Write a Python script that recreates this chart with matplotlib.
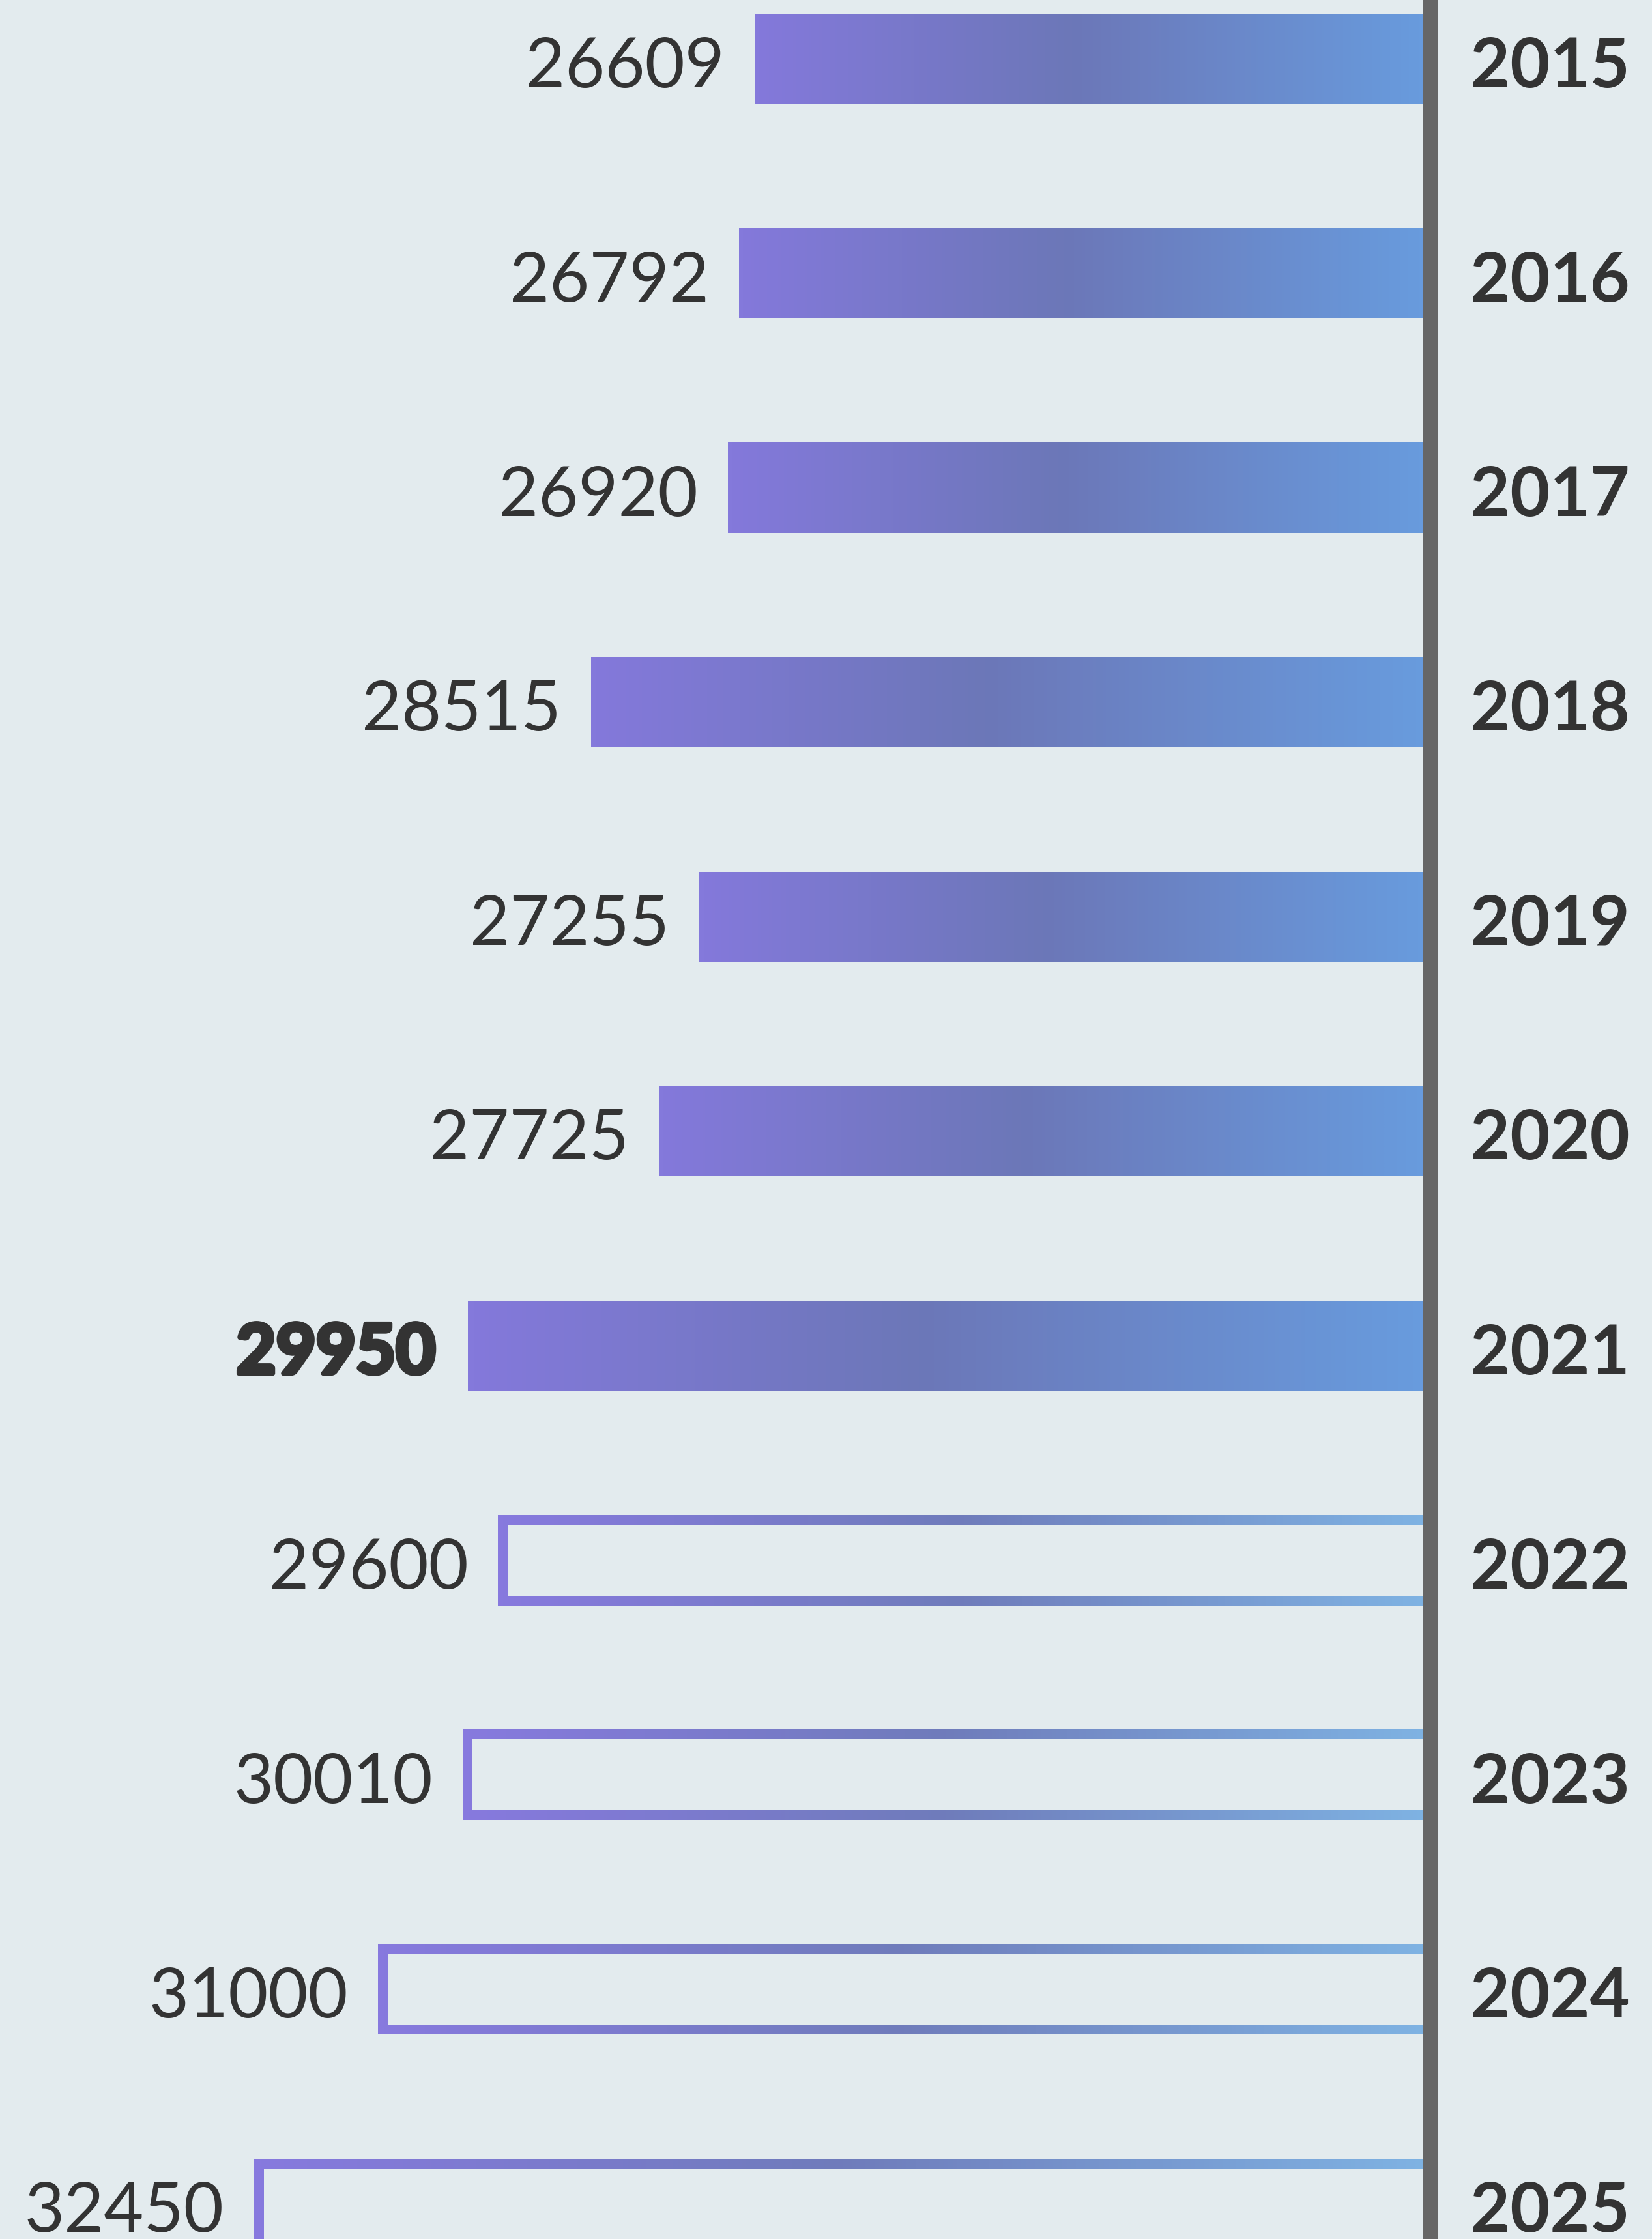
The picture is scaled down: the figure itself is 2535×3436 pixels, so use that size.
import numpy as np
import matplotlib.pyplot as plt
import matplotlib.patheffects as pe
from matplotlib.colors import LinearSegmentedColormap
from matplotlib.patches import Rectangle

years = ['2015', '2016', '2017', '2018', '2019', '2020', '2021', '2022', '2023', '2024', '2025']
values = [26609, 26792, 26920, 28515, 27255, 27725, 29950, 29600, 30010, 31000, 32450]
projected = [False] * 7 + [True] * 4
highlight = '2021'

bg = '#E3EBEE'
txt = '#333333'
fill_cmap = LinearSegmentedColormap.from_list('fill', [(0, '#8479DB'), (0.47, '#6C77B8'), (1, '#689CDE')])
line_cmap = LinearSegmentedColormap.from_list('line', [(0, '#8779DE'), (0.5, '#6F7CBB'), (1, '#7FB3E3')])

plt.rcParams['font.family'] = ['Lato', 'DejaVu Sans']

W, H, dpi = 2535, 3437, 100
fig = plt.figure(figsize=(W / dpi, H / dpi), dpi=dpi, facecolor=bg)
ax_w = 2195
ax = fig.add_axes([0, 0, ax_w / W, 1])
ax.set_facecolor(bg)
ax.axis('off')

# bars start from a baseline, not from zero
base = 18720
px_per_unit = 0.1315
row_px = 329.2

bar_h = 0.42
stroke_px = 15
sx = stroke_px / px_per_unit
sy = stroke_px / row_px
grad = np.linspace(0, 1, 256).reshape(1, -1)

for i, (yr, v, proj) in enumerate(zip(years, values, projected)):
    y0, y1 = i - bar_h / 2, i + bar_h / 2
    clip = Rectangle((base, y0), v - base, bar_h, transform=ax.transData)
    im = ax.imshow(grad, extent=(v, base, y1, y0), aspect='auto',
                   cmap=line_cmap if proj else fill_cmap, interpolation='bilinear', zorder=2)
    im.set_clip_path(clip)
    if proj:
        ax.add_patch(Rectangle((base, y0 + sy), v - base - sx, bar_h - 2 * sy,
                               facecolor=bg, edgecolor='none', zorder=3))

    ax.annotate(yr, xy=(base, i), xytext=(44, -9), textcoords='offset points',
                ha='left', va='center', fontsize=76, color=txt, fontweight='bold',
                annotation_clip=False)
    if yr == highlight:
        ax.annotate(f'{v}', xy=(v, i), xytext=(-36, -9), textcoords='offset points',
                    ha='right', va='center', fontsize=76, color=txt, fontweight='bold',
                    path_effects=[pe.withStroke(linewidth=5, foreground=txt)])
    else:
        ax.annotate(f'{v}', xy=(v, i), xytext=(-33, -9), textcoords='offset points',
                    ha='right', va='center', fontsize=76, color=txt)

ax.axvline(base, color='#666666', lw=22 * 72 / dpi, clip_on=False, zorder=5)

ax.set_xlim(base + ax_w / px_per_unit, base)
ax.set_ylim((H - 91) / row_px, -91 / row_px)

fig.savefig('out.png', dpi=dpi, facecolor=bg)
